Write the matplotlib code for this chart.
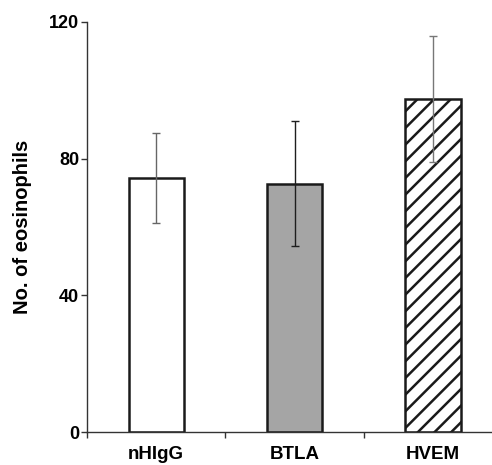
import numpy as np
import matplotlib
matplotlib.use('Agg')
import matplotlib.pyplot as plt

plt.rcParams['font.family'] = ['Liberation Sans', 'DejaVu Sans']
plt.rcParams['font.weight'] = 'bold'
plt.rcParams['hatch.linewidth'] = 1.8

groups = ['nHIgG', 'BTLA', 'HVEM']
means = [74.3, 72.6, 97.4]
errs = [13.2, 18.3, 18.5]
y_ticks = [0, 40, 80, 120]

fills = ['white', '#a5a5a5', 'white']
hatches = ['', '', '//']
err_colors = ['#666666', '#1e1e1e', '#777777']

fig = plt.figure(figsize=(4.92, 4.65), dpi=100)
ax = fig.add_axes([87 / 492, 33 / 465, 1 - 87 / 492, 410 / 465])

x = np.arange(len(groups))
for i in range(len(groups)):
    ax.bar(x[i], means[i], width=0.40, color=fills[i], edgecolor='#1a1a1a',
           linewidth=1.8, hatch=hatches[i], zorder=2)
    ax.errorbar(x[i], means[i], yerr=errs[i], fmt='none', ecolor=err_colors[i],
                elinewidth=1.0, capsize=2.8, capthick=1.0, zorder=3)

ax.set_xlim(-0.5, 2.426)
ax.set_ylim(0, 120)
ax.set_yticks(y_ticks)
ax.set_xticks(x)
ax.set_xticklabels(groups, fontsize=13.5, fontweight='bold')
ax.set_xticks([-0.5, 0.5, 1.5], minor=True)
ax.tick_params(axis='x', which='major', length=0, pad=10)
ax.tick_params(axis='x', which='minor', length=4, width=1, color='#333333', direction='out')
ax.tick_params(axis='y', length=4, width=1, color='#333333', pad=1.5, labelsize=13)
for lbl in ax.get_yticklabels():
    lbl.set_fontweight('bold')

ax.set_ylabel('No. of eosinophils', fontsize=14.5, fontweight='bold')
ax.yaxis.set_label_coords(-0.135, 0.5)

for side in ['top', 'right']:
    ax.spines[side].set_visible(False)
for side in ['left', 'bottom']:
    ax.spines[side].set_color('#333333')
    ax.spines[side].set_linewidth(1.0)

plt.savefig('out.png', dpi=100)
plt.close()
